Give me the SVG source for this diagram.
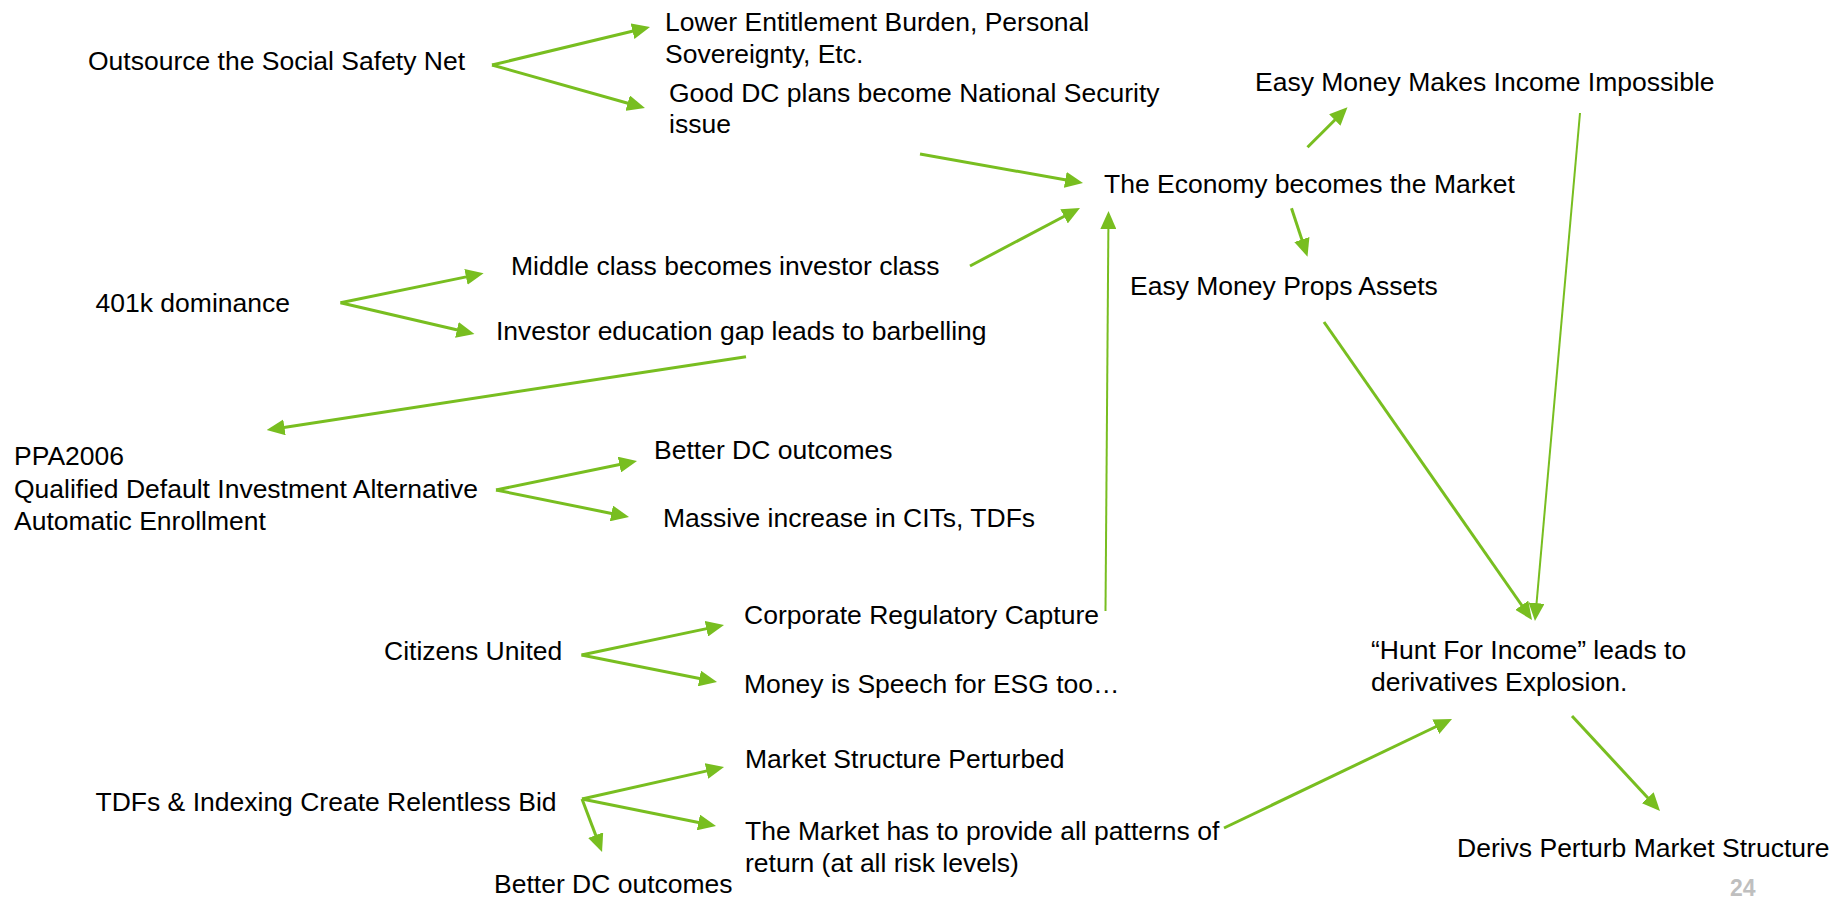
<svg xmlns="http://www.w3.org/2000/svg" width="1835" height="898" viewBox="0 0 1835 898">
  <style>
    text { font-family: "Liberation Sans", Arial, sans-serif; font-size: 26.5px; fill: #000; }
    .link { stroke: #78BE20; stroke-width: 3; fill: none; marker-end: url(#arrow); }
    .thin { stroke-width: 2; }
    .page { font-size: 23px; font-weight: bold; fill: #BFBFBF; }
  </style>
  <defs>
    <marker id="arrow" viewBox="0 0 18 16" refX="4" refY="8" markerWidth="18" markerHeight="16" markerUnits="userSpaceOnUse" orient="auto">
      <path d="M0,0 L18,8 L0,16 z" fill="#78BE20"/>
    </marker>
  </defs>

  <rect width="1835" height="898" fill="#FFFFFF"/>

  <g id="connectors">
    <!-- Outsource the Social Safety Net -->
    <line class="link" x1="492" y1="65" x2="636.4" y2="30.3"/>
    <line class="link" x1="492" y1="65" x2="631.5" y2="104.2"/>
    <!-- into The Economy becomes the Market -->
    <line class="link" x1="920" y1="154" x2="1069.2" y2="180.5"/>
    <line class="link" x1="970" y1="266" x2="1067.6" y2="214.5"/>
    <line class="link thin" x1="1105.5" y1="611" x2="1108.4" y2="225"/>
    <!-- out of The Economy becomes the Market -->
    <line class="link" x1="1307.5" y1="147.3" x2="1337.6" y2="117.2"/>
    <line class="link" x1="1291.5" y1="208.3" x2="1303.1" y2="243.4"/>
    <!-- into the derivatives explosion -->
    <line class="link thin" x1="1580" y1="113" x2="1536.2" y2="607.1"/>
    <line class="link" x1="1324" y1="322" x2="1524" y2="608.5"/>
    <line class="link" x1="1224" y1="828" x2="1439.4" y2="725"/>
    <line class="link" x1="1572" y1="716" x2="1650.5" y2="800.7"/>
    <!-- 401k dominance -->
    <line class="link" x1="340.5" y1="302.7" x2="469.9" y2="276.1"/>
    <line class="link" x1="340.5" y1="302.7" x2="460.8" y2="330.8"/>
    <line class="link" x1="746" y1="356.7" x2="280.5" y2="427.9"/>
    <!-- PPA2006 -->
    <line class="link" x1="496" y1="490" x2="623.3" y2="463.8"/>
    <line class="link" x1="496" y1="490" x2="615.3" y2="514.2"/>
    <!-- Citizens United -->
    <line class="link" x1="581.5" y1="655" x2="710.3" y2="627.9"/>
    <line class="link" x1="581.5" y1="655" x2="703.3" y2="679.3"/>
    <!-- TDFs & Indexing -->
    <line class="link" x1="582" y1="799" x2="710.4" y2="770.1"/>
    <line class="link" x1="582" y1="799" x2="702.3" y2="823.2"/>
    <line class="link" x1="582" y1="799" x2="597.1" y2="838.9"/>
  </g>

  <g id="outsource"><text x="88" y="70">Outsource the Social Safety Net</text></g>
  <g id="entitlement"><text x="665" y="31">Lower Entitlement Burden, Personal</text><text x="665" y="62.5">Sovereignty, Etc.</text></g>
  <g id="national-security"><text x="669" y="102">Good DC plans become National Security</text><text x="669" y="133">issue</text></g>
  <g id="income-impossible"><text x="1255" y="90.5">Easy Money Makes Income Impossible</text></g>
  <g id="economy-market"><text x="1104" y="192.5">The Economy becomes the Market</text></g>
  <g id="props-assets"><text x="1130" y="295">Easy Money Props Assets</text></g>
  <g id="investor-class"><text x="511" y="275">Middle class becomes investor class</text></g>
  <g id="dominance-401k"><text x="95.5" y="311.5">401k dominance</text></g>
  <g id="education-gap"><text x="496" y="340">Investor education gap leads to barbelling</text></g>
  <g id="ppa2006"><text x="14" y="465">PPA2006</text><text x="14" y="497.5">Qualified Default Investment Alternative</text><text x="14" y="530">Automatic Enrollment</text></g>
  <g id="dc-outcomes-1"><text x="654" y="459">Better DC outcomes</text></g>
  <g id="cits-tdfs"><text x="663" y="527">Massive increase in CITs, TDFs</text></g>
  <g id="citizens-united"><text x="384" y="660">Citizens United</text></g>
  <g id="regulatory-capture"><text x="744" y="624">Corporate Regulatory Capture</text></g>
  <g id="money-speech"><text x="744" y="693">Money is Speech for ESG too…</text></g>
  <g id="relentless-bid"><text x="95.5" y="811">TDFs &amp; Indexing Create Relentless Bid</text></g>
  <g id="structure-perturbed"><text x="745" y="768">Market Structure Perturbed</text></g>
  <g id="patterns-of-return"><text x="745" y="840">The Market has to provide all patterns of</text><text x="745" y="871.5">return (at all risk levels)</text></g>
  <g id="dc-outcomes-2"><text x="494" y="892.5">Better DC outcomes</text></g>
  <g id="hunt-for-income"><text x="1371" y="659">“Hunt For Income” leads to</text><text x="1371" y="691">derivatives Explosion.</text></g>
  <g id="derivs-perturb"><text x="1457" y="856.5">Derivs Perturb Market Structure</text></g>
  <g id="page-number"><text class="page" x="1730" y="896">24</text></g>
</svg>
